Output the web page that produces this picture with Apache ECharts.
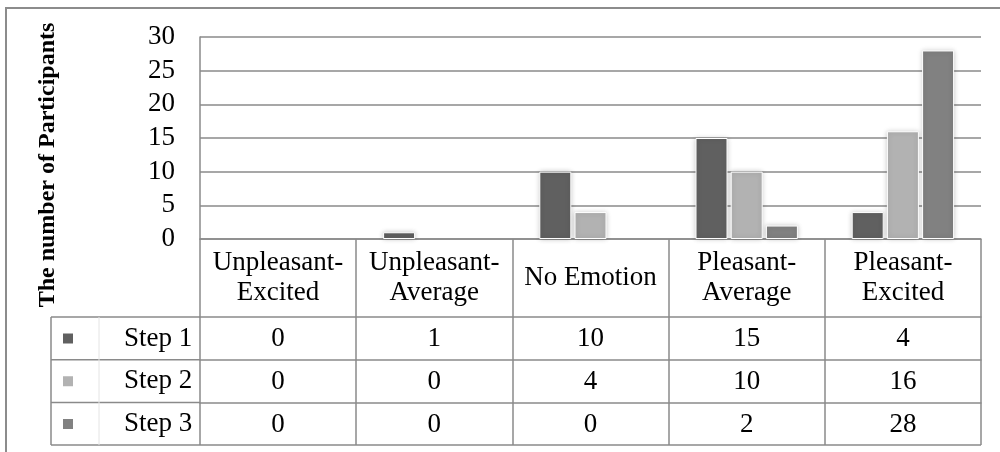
<!DOCTYPE html>
<html>
<head>
<meta charset="utf-8">
<script src="https://cdn.jsdelivr.net/npm/echarts@6/dist/echarts.min.js"></script>
<style>
  html, body { margin: 0; padding: 0; background: #fff; }
  #chart { width: 1000px; height: 452px; }
</style>
</head>
<body>
<div id="chart"></div>
<script>
const categories = ['Unpleasant-\nExcited', 'Unpleasant-\nAverage', 'No Emotion', 'Pleasant-\nAverage', 'Pleasant-\nExcited'];
const seriesNames = ['Step 1', 'Step 2', 'Step 3'];
const step1 = [0, 1, 10, 15, 4];
const step2 = [0, 0, 4, 10, 16];
const step3 = [0, 0, 0, 2, 28];
const yTicks = [0, 5, 10, 15, 20, 25, 30];
const yTitle = 'The number of Participants';

const FONT = "'Liberation Serif', 'Times New Roman', serif";
const FS = 27;
const LINE = '#8a8a8a';
const colors = ['#606060', '#b2b2b2', '#818181'];
const seriesData = [step1, step2, step3];

const gridLeft = 200, gridRight = 19, gridTop = 37, gridBottom = 213;
const catRowH = 78;
const rowH = 42.7;

const chart = echarts.init(document.getElementById('chart'));

const xAxes = [{
  type: 'category',
  data: categories,
  position: 'bottom',
  axisLine: { show: true, lineStyle: { color: LINE, width: 1.5 } },
  axisTick: { show: true, length: catRowH, lineStyle: { color: LINE, width: 1.5 } },
  axisLabel: { color: '#000', fontFamily: FONT, fontSize: FS, lineHeight: 30, margin: catRowH / 2, verticalAlign: 'middle', interval: 0 },
  splitLine: { show: false }
}];
seriesData.forEach((arr, i) => {
  xAxes.push({
    type: 'category',
    data: arr.map(String),
    position: 'bottom',
    offset: catRowH + i * rowH,
    axisLine: { show: true, lineStyle: { color: LINE, width: 1.5 } },
    axisTick: { show: true, length: rowH, lineStyle: { color: LINE, width: 1.5 } },
    axisLabel: { color: '#000', fontFamily: FONT, fontSize: FS, lineHeight: 27, margin: rowH / 2 + 1, verticalAlign: 'middle', interval: 0 },
    splitLine: { show: false }
  });
});

const option = {
  animation: false,
  backgroundColor: '#fff',
  grid: { left: gridLeft, right: gridRight, top: gridTop, bottom: gridBottom, containLabel: false },
  xAxis: xAxes,
  yAxis: {
    type: 'value',
    min: yTicks[0],
    max: yTicks[yTicks.length - 1],
    interval: 5,
    axisLine: { show: true, lineStyle: { color: LINE, width: 1.5 } },
    axisTick: { show: false },
    axisLabel: { color: '#000', fontFamily: FONT, fontSize: FS, margin: 25 },
    splitLine: { show: true, lineStyle: { color: LINE, width: 1.5 } }
  },
  legend: {
    orient: 'vertical',
    left: 56,
    top: 320,
    itemWidth: 12,
    itemHeight: 12,
    itemGap: rowH - 27,
    icon: 'rect',
    data: seriesNames,
    textStyle: { color: '#000', fontFamily: FONT, fontSize: FS, lineHeight: 27, padding: [0, 0, 0, 45] }
  },
  series: seriesData.map((arr, i) => ({
    name: seriesNames[i],
    type: 'bar',
    data: arr.map(v => v === 0 ? { value: v, itemStyle: { borderWidth: 0, shadowBlur: 0, opacity: 0 } } : v),
    barWidth: 32,
    barGap: '10%',
    itemStyle: {
      color: colors[i],
      borderColor: '#fff',
      borderWidth: 1,
      shadowColor: 'rgba(0,0,0,0.22)',
      shadowBlur: 5
    }
  })),
  graphic: []
};

chart.setOption(option);

const tableTop = 452 - gridBottom + catRowH;
const tableBottom = tableTop + 3 * rowH;
const gridRightX = 1000 - gridRight;
const g = [];
const lineStyle = { stroke: LINE, lineWidth: 1.5 };
g.push({ type: 'rect', shape: { x: 6, y: 8, width: 1100, height: 600 }, style: { fill: 'none', stroke: '#8c8c8c', lineWidth: 2 }, silent: true, z: 0 });
for (let r = 0; r <= 3; r++) {
  const y = tableTop + r * rowH;
  g.push({ type: 'line', shape: { x1: 51, y1: y, x2: gridLeft, y2: y }, style: lineStyle, silent: true });
}
g.push({ type: 'line', shape: { x1: 51, y1: tableTop, x2: 51, y2: tableBottom }, style: lineStyle, silent: true });
g.push({ type: 'line', shape: { x1: 99, y1: tableTop, x2: 99, y2: tableBottom }, style: { stroke: '#e4e4e4', lineWidth: 1 }, silent: true });
g.push({ type: 'line', shape: { x1: gridLeft, y1: tableBottom, x2: gridRightX, y2: tableBottom }, style: lineStyle, silent: true });
g.push({
  type: 'text', x: 48, y: 165, rotation: Math.PI / 2,
  style: { text: yTitle, fontFamily: FONT, fontSize: 24, fontWeight: 'bold', fill: '#000', align: 'center', verticalAlign: 'middle' },
  silent: true
});
chart.setOption({ graphic: g });
</script>
</body>
</html>
